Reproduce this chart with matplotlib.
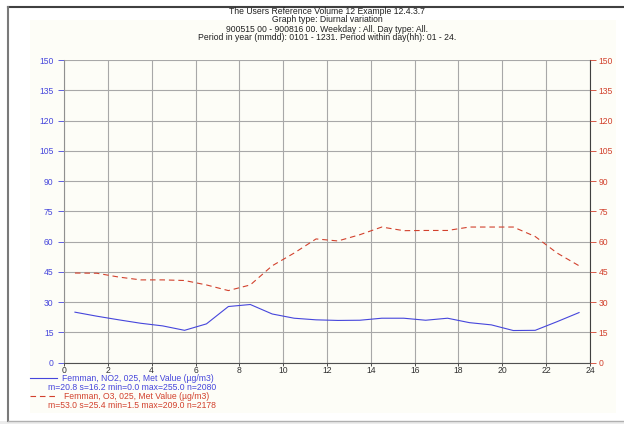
import matplotlib
matplotlib.use("Agg")
import matplotlib.pyplot as plt
from matplotlib.lines import Line2D
from matplotlib.patches import Rectangle

plt.rcParams['font.family'] = ['Liberation Sans', 'DejaVu Sans']

# hours of day (bin centres) and mean values
hours = [h + 0.5 for h in range(24)]
no2 = [25.0, 23.0, 21.2, 19.5, 18.2, 16.0, 19.2, 27.8, 28.8, 24.1, 22.0, 21.2,
       20.9, 21.0, 22.0, 22.0, 21.0, 22.0, 19.8, 18.7, 15.9, 16.0, 20.3, 24.8]
o3 = [44.4, 44.3, 42.4, 41.0, 41.0, 40.7, 38.5, 35.7, 38.5, 48.0, 54.3, 61.3,
      60.3, 63.4, 67.2, 65.4, 65.5, 65.5, 67.2, 67.2, 67.2, 62.5, 54.3, 48.0]

x_ticks = list(range(0, 25, 2))
y_ticks = list(range(0, 151, 15))

title_lines = [
    "The Users Reference Volume 12 Example 12.4.3.7",
    "Graph type: Diurnal variation",
    "900515 00 - 900816 00. Weekday : All. Day type: All.",
    "Period in year (mmdd): 0101 - 1231. Period within day(hh): 01 - 24.",
]
legend_no2 = ["Femman, NO2, 025, Met Value (\u00b5g/m3)",
              "m=20.8 s=16.2 min=0.0 max=255.0 n=2080"]
legend_o3 = ["Femman, O3, 025, Met Value (\u00b5g/m3)",
             "m=53.0 s=25.4 min=1.5 max=209.0 n=2178"]

BLUE = '#4646dc'
RED = '#d2412d'
FS = 6.2

W, H = 624, 424
fig = plt.figure(figsize=(W / 100, H / 100), dpi=100)
fig.patch.set_facecolor('white')


def fx(px):
    return px / W


def fy(py):
    return 1 - py / H


# outer frame and cream panel
fig.add_artist(Rectangle((fx(30), fy(413)), fx(616) - fx(30), fy(20) - fy(413),
                         transform=fig.transFigure, facecolor='#fdfdf7',
                         edgecolor='none', zorder=0))
fig.add_artist(Rectangle((0, 0), 1, fy(421), transform=fig.transFigure,
                         facecolor='#ececec', edgecolor='none', zorder=0))
fig.add_artist(Line2D([fx(8), 1], [fy(7), fy(7)], transform=fig.transFigure,
                      color='#404040', lw=1.5))
fig.add_artist(Line2D([fx(8), fx(8)], [fy(7), fy(421)], transform=fig.transFigure,
                      color='#7a7a7a', lw=1.5))
fig.add_artist(Line2D([fx(8), 1], [fy(421), fy(421)], transform=fig.transFigure,
                      color='#b0b0b0', lw=1.0))

ax = fig.add_axes([fx(64), fy(362.6), fx(590) - fx(64), fy(60) - fy(362.6)])
ax.set_facecolor('none')
ax.plot(hours, no2, color=BLUE, lw=0.8)
ax.plot(hours, o3, color=RED, lw=0.8, linestyle=(0, (5, 3.5)))

ax.set_xlim(0, 24)
ax.set_ylim(0, 150)
ax.set_xticks(x_ticks)
ax.set_yticks(y_ticks)
ax.grid(True, color='#a8a8a8', lw=0.8)
ax.tick_params(axis='x', labelsize=FS, colors='#303030', length=2.5, width=0.6, pad=0)
ax.tick_params(axis='y', labelsize=FS, colors=BLUE, length=4.5, width=0.6, pad=3)
ax.spines['top'].set_visible(False)
ax.spines['left'].set_color('#909090')
ax.spines['bottom'].set_color('#505050')
ax.spines['right'].set_color('#404040')
for s in ax.spines.values():
    s.set_linewidth(0.8)

ax2 = ax.twinx()
ax2.set_ylim(0, 150)
ax2.set_yticks(y_ticks)
ax2.tick_params(axis='y', labelsize=FS, colors=RED, length=4, width=0.6, pad=2)
for s in ax2.spines.values():
    s.set_visible(False)

for i, line in enumerate(title_lines):
    fig.text(fx(327), fy(11 + 9 * i), line, ha='center', va='center',
             fontsize=FS, color='#202020')

# legend block below the plot
fig.add_artist(Line2D([fx(30), fx(57)], [fy(378), fy(378)], transform=fig.transFigure,
                      color=BLUE, lw=0.8))
fig.add_artist(Line2D([fx(30), fx(57)], [fy(396), fy(396)], transform=fig.transFigure,
                      color=RED, lw=0.8, linestyle=(0, (5, 3.5))))
fig.text(fx(62), fy(378.5), legend_no2[0], fontsize=FS, color=BLUE, va='center')
fig.text(fx(48), fy(387.5), legend_no2[1], fontsize=FS, color=BLUE, va='center')
fig.text(fx(64), fy(396.5), legend_o3[0], fontsize=FS, color=RED, va='center')
fig.text(fx(48), fy(405.5), legend_o3[1], fontsize=FS, color=RED, va='center')

fig.savefig('out.png', dpi=100)
